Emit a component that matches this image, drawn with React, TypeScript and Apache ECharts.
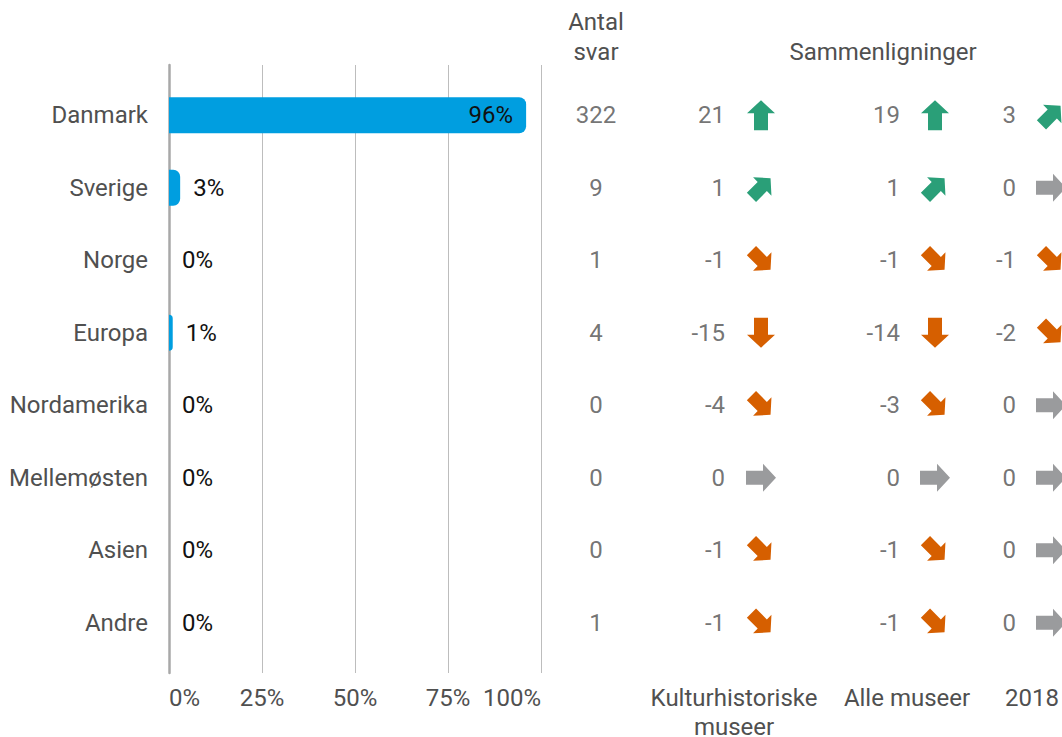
import React, { useEffect, useRef } from "react";
import * as echarts from "echarts";

const categories = ["Danmark", "Sverige", "Norge", "Europa", "Nordamerika", "Mellemøsten", "Asien", "Andre"];
const shares = [96, 3, 0, 1, 0, 0, 0, 0];
const antalSvar = [322, 9, 1, 4, 0, 0, 0, 1];
const diffKultur = [21, 1, -1, -15, -4, 0, -1, -1];
const diffAlle = [19, 1, -1, -14, -3, 0, -1, -1];
const diff2018 = [3, 0, -1, -2, 0, 0, 0, 0];
const xTickMin = 0;
const xTickMax = 100;
const xTickInterval = 25;

const FONT = "Roboto";
const FS = 24;
const TXT = "#505050";
const GREEN = "#2a9f78";
const ORANGE = "#d65f00";
const GREY = "#9a9b9d";
const ARROW = "path://M14 0 L28 13 L21 13 L21 30 L7 30 L7 13 L0 13 Z";

const COL_ANTAL = 596;
const COLS = [
  { num: 725, arrow: 761, data: diffKultur },
  { num: 900, arrow: 935, data: diffAlle },
  { num: 1016, arrow: 1051, data: diff2018 },
];

function arrowRot(v: number) {
  if (v >= 10) return 0;
  if (v > 0) return -45;
  if (v === 0) return -90;
  if (v > -10) return -135;
  return 180;
}
function arrowColor(v: number) {
  return v > 0 ? GREEN : v < 0 ? ORANGE : GREY;
}
function isDiag(v: number) {
  const r = arrowRot(v);
  return r === -45 || r === -135;
}

export default function App() {
  const ref = useRef<HTMLDivElement>(null);
  useEffect(() => {
    const chart = echarts.init(ref.current!, null, { renderer: "svg" });
    const series: any[] = [
      {
        type: "bar",
        xAxisIndex: 0,
        yAxisIndex: 0,
        barWidth: 36,
        data: shares.map((v) => ({
          value: v,
          label: {
            show: true,
            position: v >= 50 ? "insideRight" : "right",
            distance: 13,
            formatter: "{c}%",
            color: "#111",
            fontSize: FS,
            fontFamily: FONT,
          },
        })),
        itemStyle: { color: "#009ee0", borderRadius: [0, 7, 7, 0] },
      },
      {
        type: "scatter",
        xAxisIndex: 2,
        yAxisIndex: 2,
        symbolSize: 0,
        data: antalSvar.map((v, i) => [COL_ANTAL, i, v]),
        label: {
          show: true,
          position: "inside",
          formatter: (p: any) => String(p.value[2]),
          color: TXT,
          fontSize: FS,
          fontFamily: FONT,
        },
      },
    ];
    COLS.forEach((col) => {
      series.push({
        type: "scatter",
        xAxisIndex: 2,
        yAxisIndex: 2,
        symbolSize: 0,
        data: col.data.map((v, i) => [col.num, i, v]),
        label: {
          show: true,
          position: "left",
          distance: 0,
          formatter: (p: any) => String(p.value[2]),
          color: TXT,
          fontSize: FS,
          fontFamily: FONT,
        },
      });
      series.push({
        type: "scatter",
        xAxisIndex: 2,
        yAxisIndex: 2,
        symbol: ARROW,
        data: col.data.map((v, i) => ({
          value: [col.arrow, i, v],
          symbolRotate: arrowRot(v),
          symbolSize: isDiag(v) ? [26, 27] : [28, 30],
          itemStyle: { color: arrowColor(v), opacity: 1 },
        })),
      });
    });

    const txt = (text: string, x: number, y: number, lineHeight = 30) => ({
      type: "text",
      x,
      y,
      style: {
        text,
        fill: TXT,
        fontSize: FS,
        fontFamily: FONT,
        lineHeight,
        textAlign: "center",
        textVerticalAlign: "middle",
      },
    });

    const option: any = {
      animation: false,
      textStyle: { fontFamily: FONT },
      grid: [
        { left: 169, width: 372, top: 79, height: 580 },
        { left: 169, width: 372, top: 65, height: 608 },
        { left: 0, width: 1062, top: 79, height: 580 },
      ],
      xAxis: [
        { type: "value", gridIndex: 0, min: xTickMin, max: xTickMax, show: false },
        {
          type: "value",
          gridIndex: 1,
          min: xTickMin,
          max: xTickMax,
          interval: xTickInterval,
          axisLine: { show: false },
          axisTick: { show: false },
          splitLine: { show: true, lineStyle: { color: "#bdbdbd", width: 1 } },
          axisLabel: {
            formatter: "{value}%",
            color: TXT,
            fontSize: FS,
            fontFamily: FONT,
            margin: 13,
            alignMinLabel: "left",
            alignMaxLabel: "right",
          },
        },
        { type: "value", gridIndex: 2, min: 0, max: 1062, show: false },
      ],
      yAxis: [
        {
          type: "category",
          gridIndex: 0,
          data: categories,
          inverse: true,
          axisLine: { show: false },
          axisTick: { show: false },
          axisLabel: { color: TXT, fontSize: FS, fontFamily: FONT, margin: 21 },
        },
        {
          type: "value",
          gridIndex: 1,
          min: 0,
          max: 1,
          axisLine: { show: true, lineStyle: { color: "#a8a8a8", width: 2.5 } },
          axisTick: { show: false },
          axisLabel: { show: false },
          splitLine: { show: false },
        },
        {
          type: "category",
          gridIndex: 2,
          data: categories,
          inverse: true,
          show: false,
        },
      ],
      graphic: [
        txt("Antal\nsvar", 596, 37, 30),
        txt("Sammenligninger", 883, 52),
        txt("Kulturhistoriske\nmuseer", 734, 712, 29),
        txt("Alle museer", 907, 698),
        txt("2018", 1032, 698),
      ],
      series,
    };
    chart.setOption(option);
    return () => chart.dispose();
  }, []);
  return (
    <div
      ref={ref}
      style={{ position: "fixed", left: 0, top: 0, width: 1062, height: 737, background: "#fff" }}
    />
  );
}
